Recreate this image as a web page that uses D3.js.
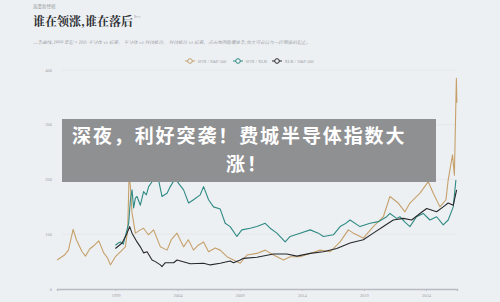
<!DOCTYPE html>
<html lang="zh">
<head>
<meta charset="UTF-8">
<title>谁在领涨，谁在落后</title>
<script src="https://cdn.jsdelivr.net/npm/d3@7/dist/d3.min.js"></script>
<style>
  html, body { margin: 0; padding: 0; background: #edf0f3; }
  #chart { width: 500px; height: 302px; }
</style>
</head>
<body>
<div id="chart"></div>
<script>
// series: [decimal year, index value]
const soxSpx = [
  [1994.31, 53], [1994.58, 57], [1994.9, 62], [1995.22, 71], [1995.6, 109], [1995.86, 90],
  [1996.32, 68], [1996.59, 60], [1996.93, 73], [1997.31, 80], [1997.66, 88], [1998.06, 66],
  [1998.36, 57], [1998.6, 44], [1999.0, 59], [1999.4, 68], [1999.8, 77], [1999.99, 108],
  [2000.1, 205], [2000.2, 190], [2000.34, 139], [2000.61, 102], [2001.01, 108], [2001.27, 111],
  [2001.65, 99], [2002.08, 108], [2002.62, 77], [2003.16, 71], [2003.5, 90], [2003.96, 102],
  [2004.49, 77], [2004.87, 90], [2005.29, 71], [2005.67, 80], [2006.1, 86], [2006.5, 68],
  [2007.04, 75], [2007.44, 71], [2007.98, 59], [2008.51, 53], [2009.05, 47], [2009.59, 62],
  [2010.39, 65], [2011.06, 71], [2011.73, 62], [2012.53, 53], [2013.07, 59], [2013.87, 59],
  [2014.68, 65], [2015.48, 71], [2016.28, 68], [2017.09, 86], [2017.75, 108], [2018.16, 102],
  [2018.96, 93], [2019.76, 114], [2020.57, 132], [2021.1, 169], [2021.77, 157], [2022.31, 141],
  [2022.71, 157], [2023.52, 175], [2024.19, 196], [2024.59, 175], [2025.13, 150], [2025.61, 163],
  [2025.79, 199], [2026.14, 245], [2026.29, 208], [2026.45, 385], [2026.49, 340]
];
const soxXlk = [
  [1999.0, 80], [1999.24, 84], [1999.4, 86], [1999.64, 82], [1999.8, 96], [2000.07, 120],
  [2000.21, 163], [2000.34, 181], [2000.47, 148], [2000.61, 166], [2000.74, 169], [2001.01, 153],
  [2001.27, 178], [2001.49, 172], [2001.68, 187], [2001.95, 196], [2002.22, 223], [2002.48, 199],
  [2002.75, 169], [2003.16, 175], [2003.42, 187], [2003.82, 202], [2004.09, 193], [2004.49, 181],
  [2004.89, 157], [2005.29, 163], [2005.83, 172], [2006.1, 187], [2006.5, 163], [2006.9, 150],
  [2007.44, 146], [2007.84, 120], [2008.24, 114], [2008.78, 96], [2009.18, 108], [2009.85, 111],
  [2010.39, 114], [2011.06, 120], [2011.46, 111], [2012.0, 102], [2012.67, 86], [2013.07, 96],
  [2013.87, 102], [2014.68, 108], [2015.34, 102], [2015.74, 96], [2016.55, 99], [2017.09, 114],
  [2017.49, 119], [2017.89, 126], [2018.69, 114], [2019.5, 120], [2020.17, 123], [2020.84, 132],
  [2021.1, 138], [2021.64, 129], [2021.91, 132], [2022.31, 122], [2022.71, 114], [2023.24, 132],
  [2023.78, 138], [2024.32, 126], [2024.86, 132], [2025.39, 117], [2025.79, 126], [2026.2, 150],
  [2026.41, 199]
];
const xlkSpx = [
  [1999.0, 74], [1999.54, 84], [1999.94, 102], [2000.15, 114], [2000.34, 102], [2000.74, 86],
  [2001.01, 77], [2001.27, 66], [2001.55, 68], [2001.95, 53], [2002.22, 50], [2002.62, 44],
  [2002.75, 41], [2003.02, 48], [2003.69, 48], [2003.96, 53], [2005.03, 46], [2006.1, 47],
  [2006.64, 44], [2007.44, 47], [2008.24, 51], [2008.51, 48], [2009.05, 53], [2009.31, 56],
  [2010.39, 58], [2011.73, 64], [2012.8, 64], [2013.61, 60], [2014.68, 65], [2015.74, 68],
  [2016.82, 74], [2017.89, 84], [2018.96, 90], [2019.76, 102], [2020.57, 114], [2021.37, 126],
  [2022.18, 129], [2022.85, 126], [2023.52, 138], [2024.06, 147], [2024.86, 141], [2025.39, 150],
  [2025.79, 157], [2026.2, 153], [2026.47, 181]
];
const seriesNames = ["SOX / S&P 500", "SOX / XLK", "XLK / S&P 500"];
const seriesColors = ["#c6a06a", "#2f8a84", "#26282b"];
const yTicks = [0, 100, 200, 300, 400];
const xTicks = [1999, 2004, 2009, 2014, 2019, 2024];
const headline = ["深夜，利好突袭！费城半导体指数大", "涨！"];

const W = 500, H = 302;
const svg = d3.select("#chart").append("svg")
  .attr("width", W).attr("height", H);

svg.append("rect").attr("width", W).attr("height", H).attr("fill", "#edf0f3");

const serif = "'Noto Serif CJK SC', 'Liberation Serif', 'DejaVu Serif', 'Noto Sans CJK SC', serif";

// header
svg.append("text").attr("x", 33).attr("y", 8)
  .attr("font-size", 4.5).attr("fill", "#9a9ea4").attr("font-family", "'Noto Sans CJK SC', sans-serif")
  .text("巡墨新经视");
const title = svg.append("text").attr("x", 33).attr("y", 26)
  .attr("font-size", 12).attr("font-weight", 700).attr("fill", "#2a2c30")
  .attr("font-family", serif);
title.append("tspan").text("谁在领涨,谁在落后");
title.append("tspan").attr("dy", -8).attr("dx", 1).attr("font-size", 3.5)
  .attr("font-weight", 400).attr("fill", "#888").text("SPX");

svg.append("text").attr("x", 33).attr("y", 44)
  .attr("font-size", 4.6).attr("font-style", "italic").attr("fill", "#8e9298")
  .attr("font-family", serif)
  .text("三条曲线,1999 年起 = 100: 半导体 vs 标普、 半导体 vs 科技板块、 科技板块 vs 标普。点击图例隐藏单条,放大可看清每一段领涨的起止。");

// scales
const x = d3.scaleLinear().domain([1994.3, 2026.5]).range([57, 457]);
const y = d3.scaleLinear().domain([0, 400]).range([289, 70]);

// grid
svg.append("g").selectAll("line").data(yTicks.filter(d => d > 0)).join("line")
  .attr("x1", 62).attr("x2", 457)
  .attr("y1", d => y(d)).attr("y2", d => y(d))
  .attr("stroke", "#e0e3e7").attr("stroke-width", 0.6);

const tickFont = "'Liberation Serif', 'DejaVu Serif', serif";
svg.append("g").selectAll("text").data(yTicks).join("text")
  .attr("x", 52).attr("y", d => y(d) + 1.5)
  .attr("text-anchor", "end").attr("font-size", 4.5).attr("fill", "#9da1a7")
  .attr("font-family", tickFont).text(d => d);

// x axis
const xAxis = svg.append("g").attr("transform", `translate(0,${y(0)})`)
  .call(d3.axisBottom(x).tickValues(xTicks).tickFormat(d3.format("d")).tickSize(2).tickPadding(3));
xAxis.select(".domain").attr("stroke", "#b9bdc3").attr("stroke-width", 1.4);
xAxis.selectAll(".tick line").attr("stroke", "#b9bdc3");
xAxis.selectAll(".tick text").attr("font-size", 4.5).attr("fill", "#9da1a7").attr("font-family", tickFont);

// lines
const line = d3.line().x(d => x(d[0])).y(d => y(d[1]));
[soxSpx, soxXlk, xlkSpx].forEach((s, i) => {
  svg.append("path").datum(s)
    .attr("fill", "none")
    .attr("stroke", seriesColors[i])
    .attr("stroke-width", 1.1)
    .attr("stroke-linejoin", "round")
    .attr("d", line);
});

// legend
const legendX = [185, 233, 272];
const legend = svg.append("g").selectAll("g").data(seriesNames).join("g")
  .attr("transform", (d, i) => `translate(${legendX[i]},61)`);
legend.append("line").attr("x1", 0).attr("x2", 10)
  .attr("stroke", (d, i) => seriesColors[i]).attr("stroke-width", 1);
legend.append("circle").attr("cx", 5).attr("r", 2.3)
  .attr("fill", "#edf0f3").attr("stroke", (d, i) => seriesColors[i]).attr("stroke-width", 1);
legend.append("text").attr("x", 12.5).attr("y", 1.5)
  .attr("font-size", 4.5).attr("fill", "#9a9ea4").attr("font-family", tickFont)
  .text(d => d);

// headline overlay
svg.append("rect").attr("x", 62).attr("y", 119).attr("width", 374).attr("height", 63)
  .attr("fill", "#8f9092");
const headX = [72, 226], headY = [143, 171];
svg.append("g").selectAll("text").data(headline).join("text")
  .attr("x", (d, i) => headX[i]).attr("y", (d, i) => headY[i])
  .attr("fill", "#ffffff").attr("font-weight", 700)
  .attr("font-size", 19).attr("letter-spacing", 1.9)
  .attr("font-family", "'Noto Sans CJK SC', sans-serif")
  .text(d => d);
</script>
</body>
</html>
